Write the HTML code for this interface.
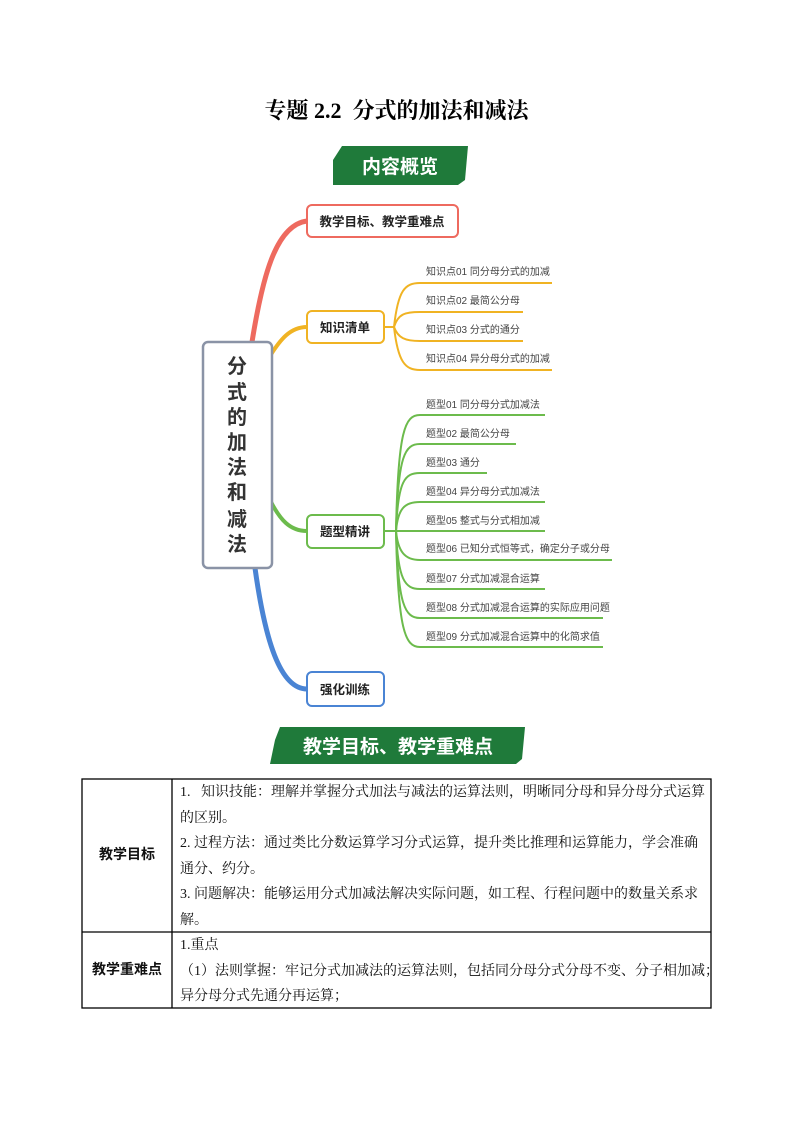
<!DOCTYPE html>
<html><head><meta charset="utf-8"><style>
body{margin:0;background:#fff;}
.pg{position:relative;width:793px;height:1122px;overflow:hidden;font-family:"Liberation Serif","Noto Serif CJK SC",serif;}
.t{position:absolute;font-size:15px;color:#111;white-space:nowrap;}
</style></head><body><div class="pg">
<div style="position:absolute;left:0;width:793px;top:94px;text-align:center;font-size:22px;font-weight:bold;font-family:'Liberation Serif','Noto Serif CJK SC',serif;">专题 2.2&nbsp; 分式的加法和减法</div>
<svg width="793" height="1122" style="position:absolute;left:0;top:0" font-family="Liberation Sans, Noto Sans CJK SC, sans-serif">
<polygon points="342,146 468,146 465,180 458,185 333,185 333,160" fill="#1f7a3a"/>
<text x="400" y="173" fill="#fff" font-size="19" font-weight="bold" text-anchor="middle">内容概览</text>
<path d="M252,342 C262,280 275,225 307,221" stroke="#ee6a5f" stroke-width="5" fill="none"/>
<path d="M270,356 C280,340 290,327 307,327" stroke="#f0b323" stroke-width="4" fill="none"/>
<path d="M270,500 C280,520 290,531 307,531" stroke="#6cbb4c" stroke-width="4" fill="none"/>
<path d="M255,568 C265,640 280,689 307,689" stroke="#4a84d4" stroke-width="5" fill="none"/>
<rect x="203" y="342" width="69" height="226" rx="5" fill="#fff" stroke="#8a93a6" stroke-width="2.5"/>
<g font-size="20" font-weight="bold" fill="#333" text-anchor="middle">
<text x="237" y="373">分</text><text x="237" y="399">式</text><text x="237" y="424">的</text><text x="237" y="449">加</text><text x="237" y="474">法</text><text x="237" y="499">和</text><text x="237" y="526">减</text><text x="237" y="551">法</text></g>
<rect x="307" y="205" width="151" height="32" rx="5" fill="#fff" stroke="#ee6a5f" stroke-width="2"/>
<text x="382" y="226" font-size="12.5" font-weight="bold" fill="#222" text-anchor="middle">教学目标、教学重难点</text>
<rect x="307" y="311" width="77" height="32" rx="5" fill="#fff" stroke="#f0b323" stroke-width="2"/>
<text x="345" y="332" font-size="12.5" font-weight="bold" fill="#222" text-anchor="middle">知识清单</text>
<rect x="307" y="515" width="77" height="33" rx="5" fill="#fff" stroke="#6cbb4c" stroke-width="2"/>
<text x="345" y="536" font-size="12.5" font-weight="bold" fill="#222" text-anchor="middle">题型精讲</text>
<rect x="307" y="672" width="77" height="34" rx="5" fill="#fff" stroke="#4a84d4" stroke-width="2"/>
<text x="345" y="694" font-size="12.5" font-weight="bold" fill="#222" text-anchor="middle">强化训练</text>
<g stroke="#f0b323" stroke-width="2" fill="none">
<line x1="384" y1="327" x2="394" y2="327"/>
<path d="M394,327 C398,290 405,283 420,283 L552,283"/>
<path d="M394,327 C398,314 405,312 420,312 L523,312"/>
<path d="M394,327 C398,338 405,341 420,341 L523,341"/>
<path d="M394,327 C398,362 405,370 420,370 L552,370"/>
</g>
<g font-size="10" fill="#444">
<text x="426" y="275">知识点01 同分母分式的加减</text>
<text x="426" y="304">知识点02 最简公分母</text>
<text x="426" y="333">知识点03 分式的通分</text>
<text x="426" y="362">知识点04 异分母分式的加减</text>
</g>
<g stroke="#6cbb4c" stroke-width="2" fill="none">
<line x1="384" y1="531" x2="396" y2="531"/>
<path d="M396,531 C398,430 405,415 420,415 L545,415"/>
<path d="M396,531 C398,455 405,444 420,444 L516,444"/>
<path d="M396,531 C398,480 405,473 420,473 L487,473"/>
<path d="M396,531 C398,508 405,502 420,502 L545,502"/>
<path d="M396,531 L545,531"/>
<path d="M396,531 C398,552 405,560 420,560 L612,560"/>
<path d="M396,531 C398,580 405,589 420,589 L545,589"/>
<path d="M396,531 C398,605 405,618 420,618 L603,618"/>
<path d="M396,531 C398,630 405,647 420,647 L603,647"/>
</g>
<g font-size="10" fill="#444">
<text x="426" y="408">题型01 同分母分式加减法</text>
<text x="426" y="437">题型02 最简公分母</text>
<text x="426" y="466">题型03 通分</text>
<text x="426" y="495">题型04 异分母分式加减法</text>
<text x="426" y="524">题型05 整式与分式相加减</text>
<text x="426" y="552">题型06 已知分式恒等式，确定分子或分母</text>
<text x="426" y="582">题型07 分式加减混合运算</text>
<text x="426" y="611">题型08 分式加减混合运算的实际应用问题</text>
<text x="426" y="640">题型09 分式加减混合运算中的化简求值</text>
</g>
<polygon points="280,727 525,727 522,759 516,764 270,764 275,740" fill="#1f7a3a"/>
<text x="398" y="753" fill="#fff" font-size="19" font-weight="bold" text-anchor="middle">教学目标、教学重难点</text>
<g stroke="#000" stroke-width="1.3" fill="none">
<rect x="82" y="779" width="629" height="229"/>
<line x1="172" y1="779" x2="172" y2="1008"/>
<line x1="82" y1="932" x2="711" y2="932"/>
</g>
</svg>
<div class="t" style="left:82px;width:90px;text-align:center;top:844px;font-weight:bold;font-size:14px;font-family:'Liberation Sans','Noto Sans CJK SC',sans-serif;">教学目标</div>
<div class="t" style="left:82px;width:90px;text-align:center;top:959px;font-weight:bold;font-size:14px;font-family:'Liberation Sans','Noto Sans CJK SC',sans-serif;">教学重难点</div>
<div class="t" style="left:180px;top:780px;line-height:25.5px;font-size:14px;">
1.&nbsp;&nbsp; 知识技能：理解并掌握分式加法与减法的运算法则，明晰同分母和异分母分式运算<br>的区别。<br>
2. 过程方法：通过类比分数运算学习分式运算，提升类比推理和运算能力，学会准确<br>通分、约分。<br>
3. 问题解决：能够运用分式加减法解决实际问题，如工程、行程问题中的数量关系求<br>解。</div>
<div class="t" style="left:180px;top:933px;line-height:25.5px;font-size:14px;">
1.重点<br>（1）法则掌握：牢记分式加减法的运算法则，包括同分母分式分母不变、分子相加减；<br>异分母分式先通分再运算；</div>
</div></body></html>
